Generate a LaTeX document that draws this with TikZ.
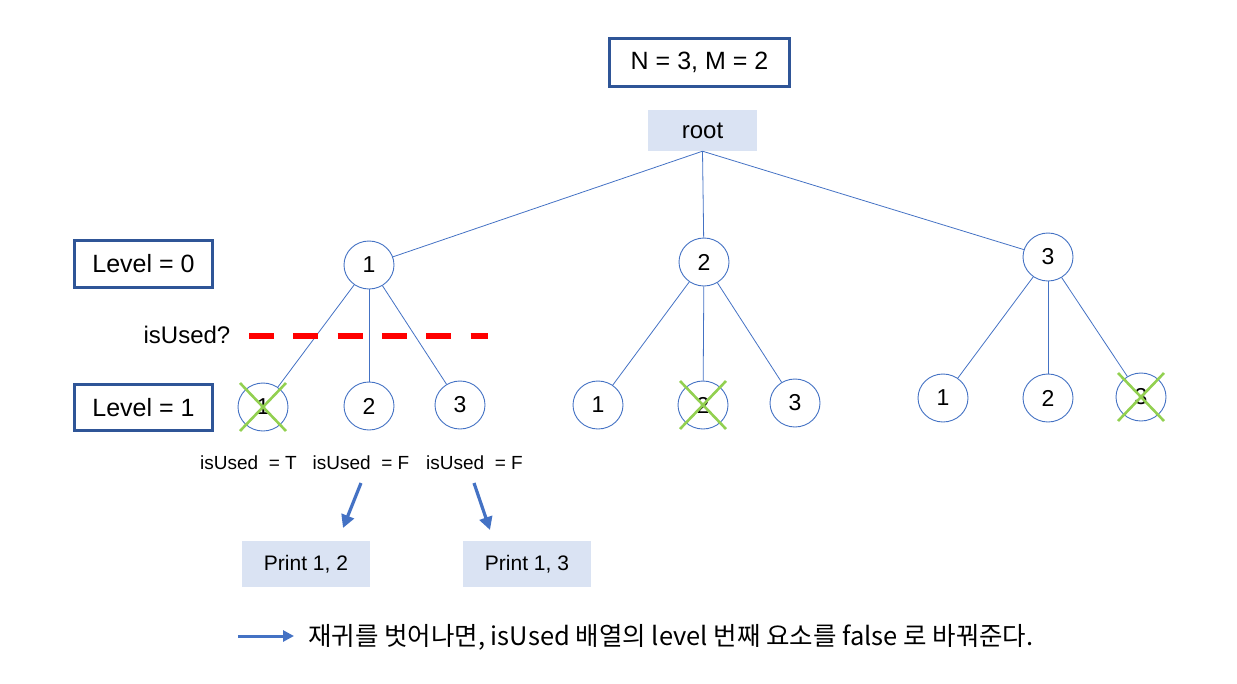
\documentclass[tikz,border=0pt]{standalone}
\usepackage{fontspec}
\setmainfont{Liberation Sans}
\newfontfamily\krfont{Noto Sans CJK KR}
\usetikzlibrary{arrows.meta,shapes.geometric,calc}
\definecolor{edgeblue}{HTML}{4472C4}
\definecolor{boxblue}{HTML}{2F5597}
\definecolor{fillblue}{HTML}{DAE3F3}
\definecolor{xgreen}{HTML}{92D050}
\definecolor{dashred}{HTML}{FF0000}
\begin{document}
\begin{tikzpicture}[x=1pt,y=-1pt,
  every node/.style={font=\fontsize{24}{28}\selectfont, inner sep=0pt, text=black},
  circ/.style={ellipse, draw=edgeblue, line width=0.9pt, minimum width=50pt, minimum height=48pt, fill=white, font=\fontsize{23}{27}\selectfont},
  outbox/.style={draw=boxblue, line width=3pt},
  fillbox/.style={fill=fillblue},
  treeedge/.style={draw=edgeblue, line width=0.8pt},
  crossline/.style={draw=xgreen, line width=2.6pt},
  bluearrow/.style={draw=edgeblue, line width=3.2pt, -{Triangle[length=13pt,width=13pt]}},
  smalltext/.style={font=\fontsize{19}{22}\selectfont},
  reddash/.style={draw=dashred, line width=6pt, dash pattern=on 25pt off 19.3pt}
]
\useasboundingbox (0,0) rectangle (1237,683);

% header boxes
\node[outbox, minimum width=180pt, minimum height=48pt, font=\fontsize{25}{29}\selectfont] (nm) at (699.5,62.5) {N = 3, M = 2};
\node[fillbox, minimum width=109pt, minimum height=41pt] (root) at (702.5,130.5) {root};

% level boxes
\node[outbox, minimum width=138pt, minimum height=47pt, font=\fontsize{25}{29}\selectfont] (lv0) at (143.5,264) {Level = 0};
\node[outbox, minimum width=138pt, minimum height=46pt, font=\fontsize{25}{29}\selectfont] (lv1) at (143.5,407.5) {Level = 1};

% level-0 nodes
\node[circ] (n1) at (369,265) {1};
\node[circ] (n2) at (704,262) {2};
\node[circ] (n3) at (1048,257) {3};

% level-1 nodes
\node[circ] (n11) at (263,407) {1};
\node[circ] (n12) at (369,406) {2};
\node[circ] (n13) at (460,405) {3};
\node[circ] (n21) at (598,405) {1};
\node[circ] (n22) at (703,405) {2};
\node[circ] (n23) at (795,403) {3};
\node[circ] (n31) at (943,398) {1};
\node[circ] (n32) at (1048,398) {2};
\node[circ] (n33) at (1141,397) {3};

% tree edges
\draw[treeedge] (root.south) -- (n1);
\draw[treeedge] (root.south) -- (n2);
\draw[treeedge] (root.south) -- (n3);
\foreach \p in {1,2,3}{
  \foreach \c in {1,2,3}{
    \draw[treeedge] (n\p) -- (n\p\c);
  }
}

% crosses
\foreach \n in {n11,n22,n33}{
  \draw[crossline] ($(\n)+(-23,-24)$) -- ($(\n)+(23,24)$);
  \draw[crossline] ($(\n)+(23,-24)$) -- ($(\n)+(-23,24)$);
}

% isUsed? dashed line
\node (isq) at (187,335) {isUsed?};
\coordinate (d1) at (249,336);
\coordinate (d2) at (488,336);
\draw[reddash] (d1) -- (d2);

% isUsed labels
\node[smalltext] (t1) at (248.5,463) {isUsed\ \ = T};
\node[smalltext] (t2) at (361,463) {isUsed\ \ = F};
\node[smalltext] (t3) at (474.5,463) {isUsed\ \ = F};

% print boxes
\node[fillbox, minimum width=128pt, minimum height=46pt, font=\fontsize{21}{25}\selectfont] (p12) at (306,564) {Print 1, 2};
\node[fillbox, minimum width=128pt, minimum height=46pt, font=\fontsize{21}{25}\selectfont] (p13) at (527,564) {Print 1, 3};

\coordinate (a1s) at (361,483);
\coordinate (a1e) at (343,528);
\coordinate (a2s) at (474,483);
\coordinate (a2e) at (490,530);
\draw[bluearrow] (a1s) -- (a1e);
\draw[bluearrow] (a2s) -- (a2e);

% legend
\coordinate (ls) at (238,636);
\coordinate (le) at (294,636);
\draw[bluearrow, line width=3pt, -{Triangle[length=11pt,width=11pt]}] (ls) -- (le);
\node[anchor=west, font=\krfont\fontsize{25.5}{30}\selectfont] (legend) at (308,637) {재귀를 벗어나면, isUsed 배열의 level 번째 요소를 false 로 바꿔준다.};
\end{tikzpicture}
\end{document}
